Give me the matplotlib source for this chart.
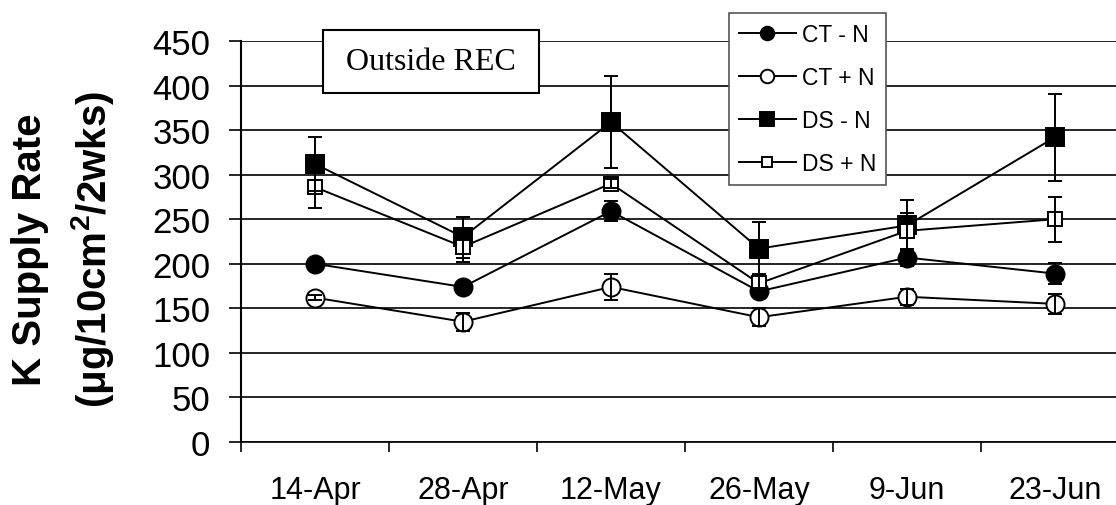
import matplotlib.pyplot as plt
from matplotlib.patches import Rectangle

plt.rcParams['font.family'] = ['Liberation Sans', 'DejaVu Sans']
plt.rcParams['mathtext.fontset'] = 'custom'
plt.rcParams['mathtext.rm'] = 'Liberation Sans:bold'
plt.rcParams['mathtext.bf'] = 'Liberation Sans:bold'

dates = ['14-Apr', '28-Apr', '12-May', '26-May', '9-Jun', '23-Jun']

ct_minus = [200, 174, 259, 169, 207, 189]
ct_minus_err = [4, 4, 11, 4, 10, 12]
ct_plus = [162, 135, 174, 140, 163, 155]
ct_plus_err = [3, 10, 15, 10, 9, 11]
ds_minus = [312, 230, 359, 217, 243, 342]
ds_minus_err = [30, 23, 52, 30, 29, 49]
ds_plus = [286, 219, 290, 178, 237, 250]
ds_plus_err = [23, 17, 5, 10, 20, 25]

series = [
    ('CT - N', ct_minus, ct_minus_err, 'o', 'black', 13),
    ('CT + N', ct_plus, ct_plus_err, 'o', 'white', 13),
    ('DS - N', ds_minus, ds_minus_err, 's', 'black', 13.5),
    ('DS + N', ds_plus, ds_plus_err, 's', 'white', 10.5),
]

fig = plt.figure(figsize=(11.16, 5.06), dpi=100)
ax = fig.add_axes([241 / 1116, 1 - 443 / 506, (1129 - 241) / 1116, (443 - 42) / 506])

x = list(range(len(dates)))
for name, vals, errs, mk, fc, ms in series:
    ax.plot(x, vals, '-', marker=mk, color='black', markerfacecolor=fc,
            markeredgecolor='black', markeredgewidth=1.4, markersize=ms,
            linewidth=1.4, label=name, zorder=3)
    ax.errorbar(x, vals, yerr=errs, fmt='none', ecolor='black', elinewidth=1.4,
                capsize=5, capthick=1.4, zorder=4)

ax.set_xlim(-0.5, 5.5)
ax.set_ylim(0, 450)
ax.set_yticks(range(0, 451, 50))
ax.yaxis.grid(True, color='black', linewidth=1.2)
ax.set_axisbelow(True)
ax.set_xticks(x)
ax.set_xticklabels(dates)
ax.set_xticks([i - 0.5 for i in range(7)], minor=True)
ax.tick_params(axis='x', which='major', length=0, pad=24, labelsize=22)
ax.tick_params(axis='x', which='minor', length=7, width=1.2, direction='out')
ax.tick_params(axis='y', length=9, width=1.2, pad=13, labelsize=25)
for s in ['top', 'right']:
    ax.spines[s].set_visible(False)
ax.spines['left'].set_linewidth(1.5)
ax.spines['bottom'].set_linewidth(1.2)

fig.text(30 / 1116, 0.506, 'K Supply Rate', rotation=90, ha='center', va='center',
         fontsize=29, fontweight='bold')
fig.text(93 / 1116, 0.506, r'(μg/10cm$^{2}$/2wks)', rotation=90, ha='center', va='center',
         fontsize=29, fontweight='bold')

fig.patches.append(Rectangle((323 / 1116, 1 - 94 / 506), 216 / 1116, 63 / 506,
                             transform=fig.transFigure, facecolor='white',
                             edgecolor='black', linewidth=1.5, zorder=5))
fig.text(431 / 1116, 1 - 62 / 506, 'Outside REC', ha='center', va='center',
         fontsize=23, family='Liberation Serif', zorder=6)

leg = fig.legend(loc='upper left', bbox_to_anchor=(729 / 1116, 1 - 14 / 506),
                 fontsize=16.5, markerscale=0.75, handlelength=2.5, handletextpad=0.25,
                 labelspacing=0.88, borderpad=0.42, borderaxespad=0, fancybox=False,
                 framealpha=1, edgecolor='#555555')
leg.get_frame().set_linewidth(1.2)

fig.savefig('out.png', dpi=100)
